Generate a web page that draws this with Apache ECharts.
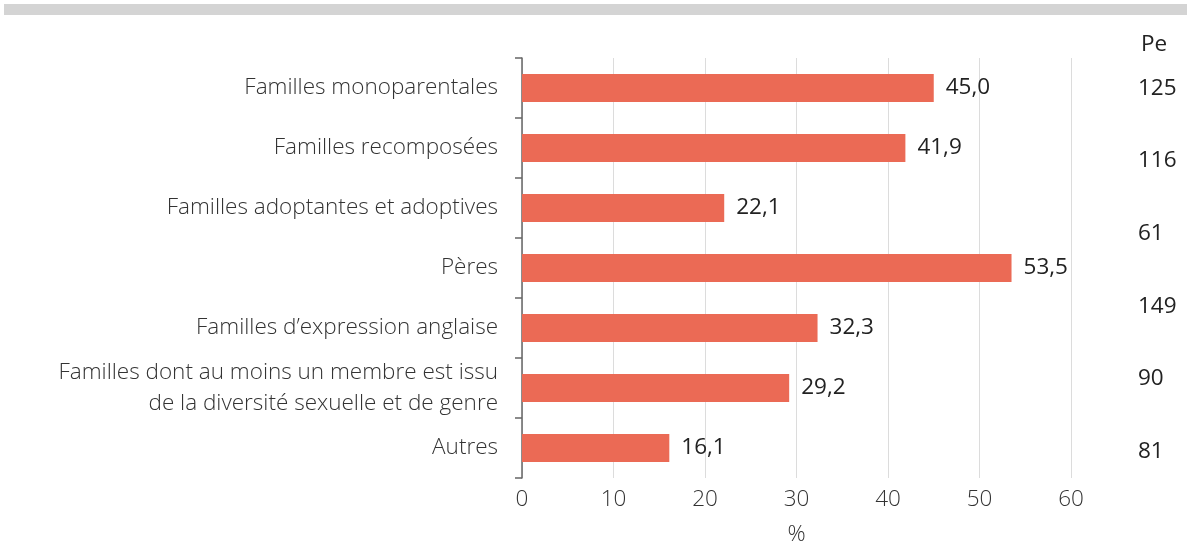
<!DOCTYPE html>
<html><head><meta charset="utf-8">
<script src="https://cdn.jsdelivr.net/npm/echarts@6/dist/echarts.min.js"></script>
<style>html,body{margin:0;padding:0;background:#fff}#c{width:1187px;height:544px}</style>
</head><body><div id="c"></div>
<script>
const categories = [
  "Familles monoparentales",
  "Familles recomposées",
  "Familles adoptantes et adoptives",
  "Pères",
  "Familles d’expression anglaise",
  "Familles dont au moins un membre est issu\nde la diversité sexuelle et de genre",
  "Autres"
];
const values = [45.0, 41.9, 22.1, 53.5, 32.3, 29.2, 16.1];
const peLabels = ["125", "116", "61", "149", "90", "81"];
const xTicks = [0, 10, 20, 30, 40, 50, 60];

const FONT = "'Open Sans', 'Noto Sans', sans-serif";
const FS = 22.5;
const chart = echarts.init(document.getElementById('c'), null, {renderer: 'canvas'});
chart.setOption({
  animation: false,
  grid: [
    {left: 522, right: 116, top: 58, bottom: 66, outerBoundsMode: 'none', containLabel: false},
    {left: 1135, width: 1, top: 52, height: 436, outerBoundsMode: 'none', containLabel: false}
  ],
  graphic: [
    {type: 'rect', shape: {x: 4, y: 4, width: 1183, height: 11}, style: {fill: '#d4d4d4'}},
    {type: 'text', left: 1141, top: 33, style: {text: 'Pe', font: FS + 'px ' + FONT, fill: '#222'}}
  ],
  xAxis: [{
    type: 'value', gridIndex: 0, min: xTicks[0], max: xTicks[xTicks.length - 1], interval: xTicks[1] - xTicks[0],
    name: '%', nameLocation: 'middle', nameGap: 45,
    nameTextStyle: {fontFamily: FONT, fontSize: FS, color: '#333', fontWeight: 300},
    axisLine: {show: false}, axisTick: {show: false},
    axisLabel: {margin: 10, fontFamily: FONT, fontSize: FS, color: '#333', fontWeight: 300},
    splitLine: {show: true, lineStyle: {color: '#dcdcdc', width: 1}}
  }, {
    type: 'value', gridIndex: 1, show: false
  }],
  yAxis: [{
    type: 'category', gridIndex: 0, data: categories, inverse: true,
    axisLine: {show: true, lineStyle: {color: '#666', width: 1.5}},
    axisTick: {show: true, length: 7, lineStyle: {color: '#666', width: 1.5}},
    axisLabel: {margin: 24, fontFamily: FONT, fontSize: FS, color: '#333', fontWeight: 300, lineHeight: 31, align: 'right'}
  }, {
    type: 'category', gridIndex: 1, data: peLabels, inverse: true, position: 'right',
    axisLine: {show: false}, axisTick: {show: false},
    axisLabel: {margin: 2, fontFamily: FONT, fontSize: FS, color: '#222', align: 'left'}
  }],
  series: [{
    type: 'bar', xAxisIndex: 0, yAxisIndex: 0, data: values, barWidth: 28,
    itemStyle: {color: '#eb6a55'},
    label: {show: true, position: 'right', distance: 12, fontFamily: FONT, fontSize: FS, color: '#222',
      formatter: p => p.value.toFixed(1).replace('.', ',')}
  }]
});
</script></body></html>
